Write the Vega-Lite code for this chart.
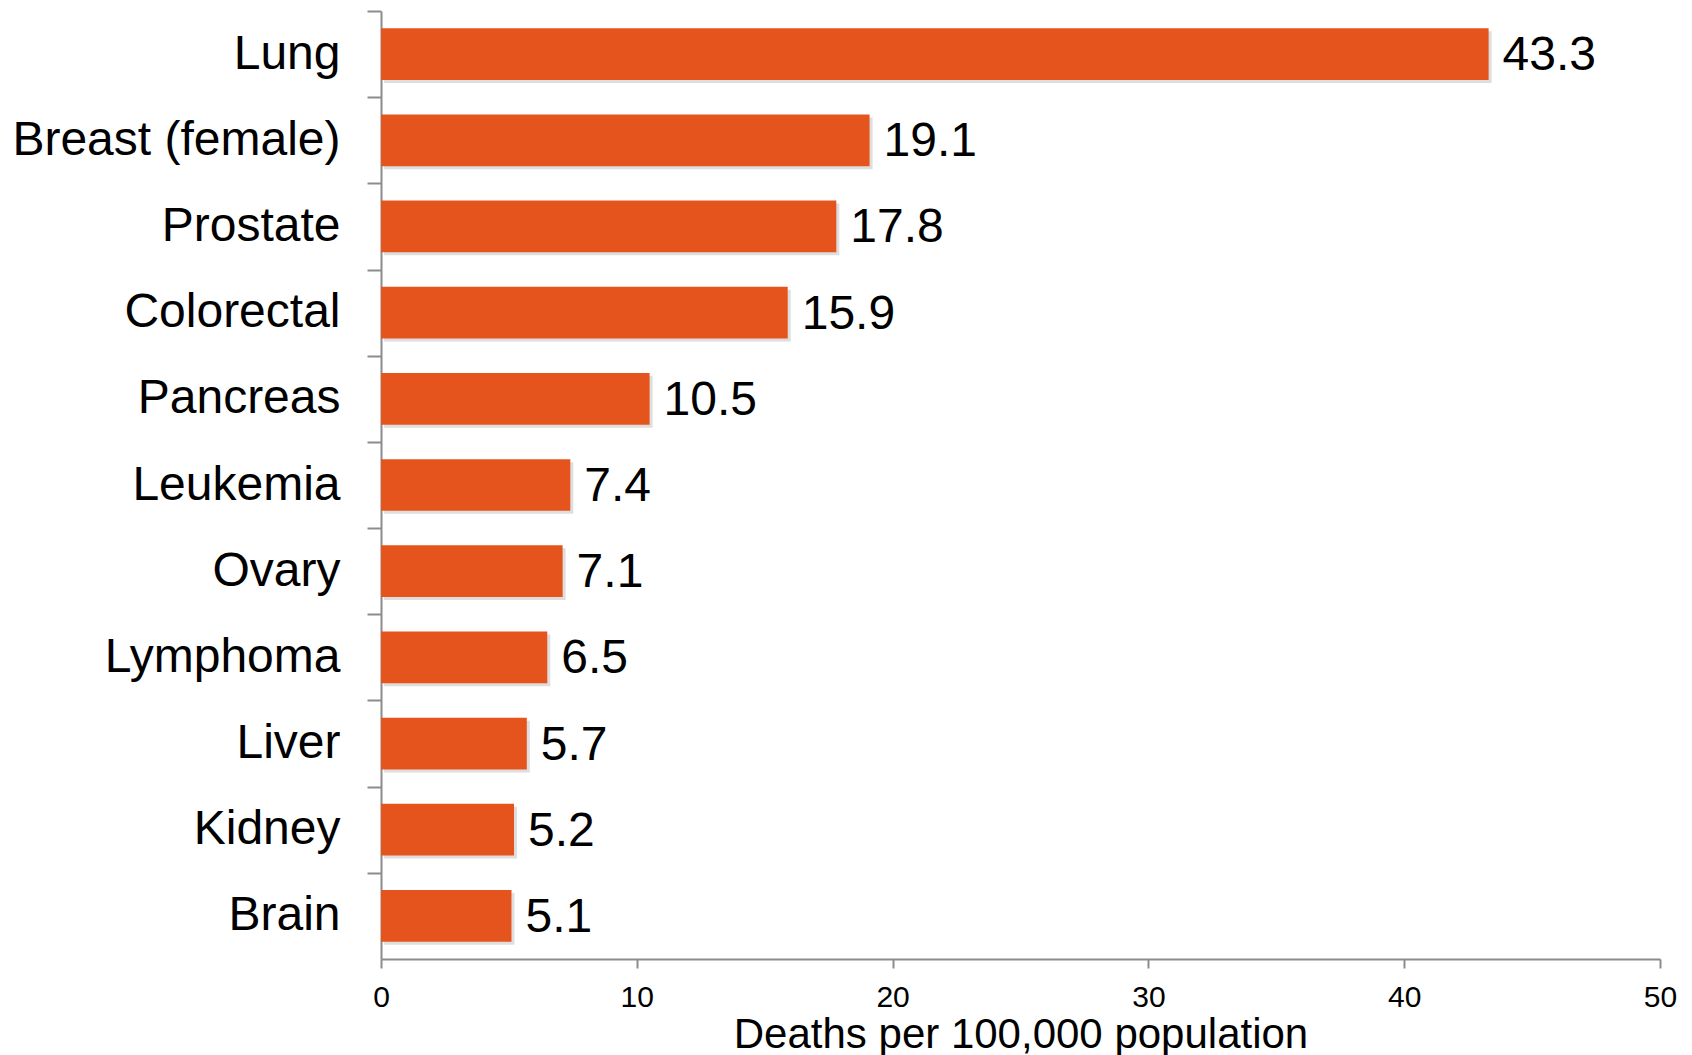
{
  "$schema": "https://vega.github.io/schema/vega-lite/v6.json",
  "autosize": {"type": "none"},
  "padding": {"left": 381, "top": 11, "right": 32, "bottom": 96},
  "width": 1279,
  "height": 948,
  "background": "white",
  "config": {
    "view": {"stroke": null},
    "font": "Liberation Sans"
  },
  "data": {
    "values": [
      {"cancer": "Lung", "rate": 43.3},
      {"cancer": "Breast (female)", "rate": 19.1},
      {"cancer": "Prostate", "rate": 17.8},
      {"cancer": "Colorectal", "rate": 15.9},
      {"cancer": "Pancreas", "rate": 10.5},
      {"cancer": "Leukemia", "rate": 7.4},
      {"cancer": "Ovary", "rate": 7.1},
      {"cancer": "Lymphoma", "rate": 6.5},
      {"cancer": "Liver", "rate": 5.7},
      {"cancer": "Kidney", "rate": 5.2},
      {"cancer": "Brain", "rate": 5.1}
    ]
  },
  "encoding": {
    "y": {
      "field": "cancer",
      "type": "nominal",
      "sort": null,
      "scale": {"paddingInner": 0.4, "paddingOuter": 0.2},
      "axis": {
        "title": null,
        "labelFontSize": 48,
        "labelColor": "black",
        "labelPadding": 27,
        "labelLimit": 500,
        "labelOffset": 43.09,
        "tickOffset": -43.09,
        "tickExtra": true,
        "tickSize": 14,
        "tickColor": "#8c8c8c",
        "tickWidth": 2,
        "domainColor": "#8c8c8c",
        "domainWidth": 2
      }
    }
  },
  "layer": [
    {
      "mark": {"type": "bar", "color": "#c8c8c8", "opacity": 0.6, "xOffset": 3, "yOffset": 3},
      "encoding": {
        "x": {"field": "rate", "type": "quantitative"}
      }
    },
    {
      "mark": {"type": "bar", "color": "#E5541C"},
      "encoding": {
        "x": {
          "field": "rate",
          "type": "quantitative",
          "scale": {"domain": [0, 50], "nice": false},
          "axis": {
            "title": "Deaths per 100,000 population",
            "titleFontSize": 42,
            "titleFontWeight": "normal",
            "titleColor": "black",
            "titlePadding": 2,
            "values": [0, 10, 20, 30, 40, 50],
            "grid": false,
            "labelFlush": false,
            "labelFontSize": 30,
            "labelColor": "black",
            "labelPadding": 14,
            "tickSize": 9,
            "tickColor": "#8c8c8c",
            "tickWidth": 2,
            "domainColor": "#8c8c8c",
            "domainWidth": 2
          }
        }
      }
    },
    {
      "mark": {"type": "text", "align": "left", "baseline": "middle", "dx": 14, "dy": 2, "fontSize": 48, "color": "black"},
      "encoding": {
        "x": {"field": "rate", "type": "quantitative"},
        "text": {"field": "rate", "type": "quantitative", "format": ".1f"}
      }
    }
  ]
}
